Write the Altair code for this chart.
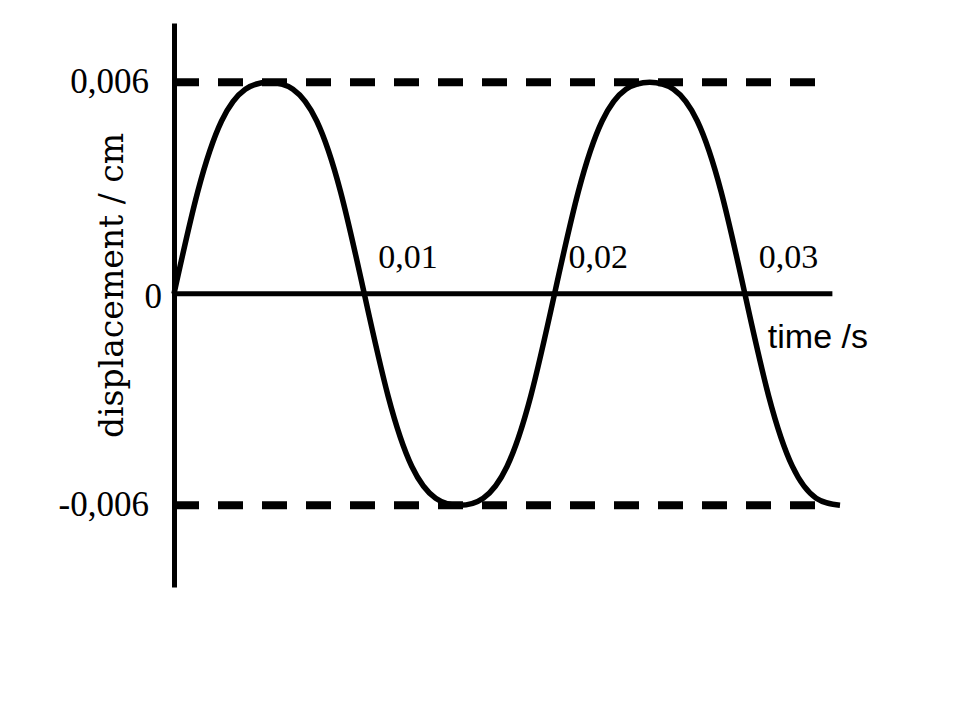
import altair as alt
import pandas as pd

# ---- data ----
time_s = [0, 0.00125, 0.0025, 0.00375, 0.005, 0.00625, 0.0075, 0.00875,
          0.01, 0.01125, 0.0125, 0.01375, 0.015, 0.01625, 0.0175, 0.01875,
          0.02, 0.02125, 0.0225, 0.02375, 0.025, 0.02625, 0.0275, 0.02875,
          0.03, 0.03125, 0.0325, 0.03375, 0.035]
displacement_cm = [0, 0.0029, 0.0049, 0.0058, 0.006, 0.0058, 0.0049, 0.0029,
                   0, -0.0029, -0.0049, -0.0058, -0.006, -0.0058, -0.0049, -0.0029,
                   0, 0.0029, 0.0049, 0.0058, 0.006, 0.0058, 0.0049, 0.0029,
                   0, -0.0029, -0.0049, -0.0058, -0.006]

amplitude_levels = [0.006, -0.006]
amplitude_labels = ["0,006", "-0,006"]
zero_label = ["0"]
x_tick_values = [0.01, 0.02, 0.03]
x_tick_labels = ["0,01", "0,02", "0,03"]
axis_end = 0.0346
x_title = "time /s"
y_title = "displacement / cm"

# ---- tables ----
wave = pd.DataFrame({"t": time_s, "d": displacement_cm})
dash = pd.DataFrame({"t": [0.0] * 2, "t2": [axis_end] * 2, "d": amplitude_levels})
hline = pd.DataFrame({"t": [0.0], "t2": [axis_end], "d": [0.0]})
ylab = pd.DataFrame({"t": [0.0] * 2, "d": amplitude_levels, "lab": amplitude_labels})
zlab = pd.DataFrame({"t": [0.0], "d": [0.0], "lab": zero_label})
xlab = pd.DataFrame({"t": x_tick_values, "d": [0.0] * 3, "lab": x_tick_labels})
xt = pd.DataFrame({"t": [0.03], "d": [0.0], "lab": [x_title]})

xscale = alt.Scale(domain=[0, 0.035], nice=False, zero=False)
yscale = alt.Scale(domain=[-0.00832, 0.00768], nice=False, zero=False)
yaxis = alt.Axis(labels=False, ticks=False, grid=False, domain=True,
                 domainColor="black", domainWidth=5, title=y_title,
                 titleFont="DejaVu Serif", titleFontSize=33, titleFontWeight="normal",
                 titleColor="black", titleAngle=270, titleAlign="center",
                 titleBaseline="middle", titleX=-62, titleY=262)

X = lambda f="t": alt.X(f, type="quantitative", scale=xscale, axis=None)
Y = lambda f="d": alt.Y(f, type="quantitative", scale=yscale, axis=yaxis)

line = alt.Chart(wave).mark_line(interpolate="natural", color="black",
                                 strokeWidth=5.5).encode(x=X(), y=Y())
dashed = alt.Chart(dash).mark_rule(color="black", strokeWidth=8,
                                   strokeDash=[25, 19], strokeCap="butt").encode(
    x=X(), x2="t2", y=Y())
axisline = alt.Chart(hline).mark_rule(color="black", strokeWidth=5).encode(
    x=X(), x2="t2", y=Y())

serif = "Liberation Serif"
ytext = alt.Chart(ylab).mark_text(align="right", baseline="middle", dx=-25,
                                  font=serif, fontSize=35, color="black").encode(
    x=X(), y=Y(), text="lab")
ztext = alt.Chart(zlab).mark_text(align="right", baseline="middle", dx=-12, dy=3,
                                  font=serif, fontSize=35, color="black").encode(
    x=X(), y=Y(), text="lab")
xtext = alt.Chart(xlab).mark_text(align="left", baseline="middle", dx=14, dy=-36,
                                  font=serif, fontSize=34, color="black").encode(
    x=X(), y=Y(), text="lab")
ttext = alt.Chart(xt).mark_text(align="left", baseline="middle", dx=23, dy=44,
                                font="Liberation Sans", fontSize=34, color="black").encode(
    x=X(), y=Y(), text="lab")

chart = alt.layer(line, dashed, axisline, ytext, ztext, xtext, ttext).properties(
    width=666, height=564,
    padding={"left": 166, "top": 15, "right": 110, "bottom": 110},
    autosize=alt.AutoSizeParams(type="none"),
    background="white",
).configure_view(stroke=None)

chart.save("out.html", embed_options={"renderer": "svg", "actions": False})
